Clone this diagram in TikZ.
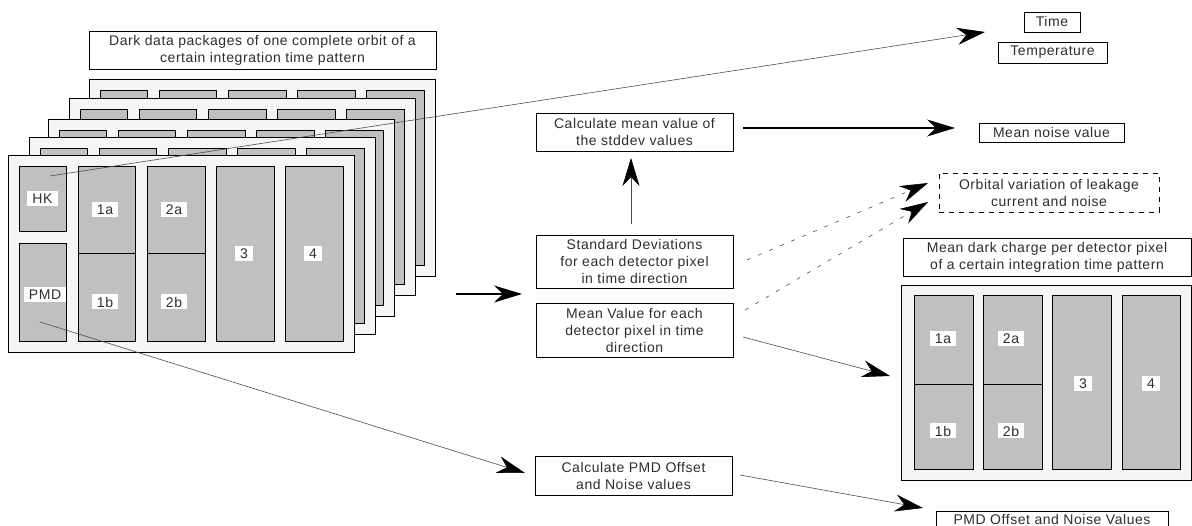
\documentclass[tikz,border=0pt]{standalone}
\usepackage{fontspec}
\setmainfont{Liberation Sans}[LetterSpace=4]
\usetikzlibrary{arrows.meta}
\definecolor{panelfill}{HTML}{F5F5F5}
\definecolor{cellfill}{HTML}{C0C0C0}
\definecolor{txt}{HTML}{2E2E2E}
\begin{document}
\begin{tikzpicture}[x=1pt,y=-1pt,
  txtstyle/.style={text=txt, font=\fontsize{14}{17}\selectfont, align=center},
  box/.style={txtstyle, draw=black, line width=0.9pt, fill=white, inner sep=0pt},
  tag/.style={txtstyle, fill=white, inner xsep=5pt, inner ysep=1pt, minimum height=15pt},
  cell/.style={draw=black, line width=0.9pt, fill=cellfill},
  panel/.style={draw=black, line width=0.9pt, fill=panelfill},
  conn/.style={draw=black!70, line width=0.6pt},
  heavy/.style={draw=black, line width=1.2pt},
  tip/.style={-{Stealth[length=28pt,width=17pt,inset=9pt,color=black]}},
  layer/.pic={
    \draw[panel] (0,0) rectangle (346,197);
    \draw[cell] (11,11) rectangle (58,76);
    \draw[cell] (11,88) rectangle (58,186);
    \draw[cell] (70,11) rectangle (127,186);
    \draw[line width=0.9pt] (70,98) -- (127,98);
    \draw[cell] (139,11) rectangle (197,186);
    \draw[line width=0.9pt] (139,98) -- (197,98);
    \draw[cell] (208,11) rectangle (266,186);
    \draw[cell] (277,11) rectangle (335,186);
  }]
\useasboundingbox (0,0) rectangle (1192,526);

% ---- stack of dark data packages ----
\node[box, minimum width=347pt, minimum height=38pt] (stacktitle) at (262.5,50)
  {Dark data packages of one complete orbit of a\\certain integration time pattern};
\foreach \lx/\ly in {89/79, 69/98, 48/119, 29/137}
  \pic at (\lx,\ly) {layer};
\pic at (8,155) {layer};
\node[tag] (hk)  at (42.5,199) {HK};
\node[tag] (pmd) at (45,294.5) {PMD};
\node[tag] (s1a) at (105,210) {1a};
\node[tag] (s1b) at (105,302) {1b};
\node[tag] (s2a) at (174,210) {2a};
\node[tag] (s2b) at (174,302) {2b};
\node[tag] (s3)  at (244,254) {3};
\node[tag] (s4)  at (313,254) {4};

% ---- processing steps ----
\node[box, minimum width=197pt, minimum height=38pt] (calcmean) at (634.5,132)
  {Calculate mean value of\\the stddev values};
\node[box, minimum width=197pt, minimum height=53pt] (stddev) at (634.5,261.5)
  {Standard Deviations\\for each detector pixel\\in time direction};
\node[box, minimum width=197pt, minimum height=54pt] (meanval) at (634.5,330)
  {Mean Value for each\\detector pixel in time\\direction};
\node[box, minimum width=197pt, minimum height=39pt] (calcpmd) at (633.5,475.5)
  {Calculate PMD Offset\\and Noise values};

% ---- results ----
\node[box, minimum width=56pt, minimum height=20pt] (time) at (1052,22) {Time};
\node[box, minimum width=109pt, minimum height=21pt] (temp) at (1052.5,52.5) {Temperature};
\node[box, minimum width=145pt, minimum height=19pt] (meannoise) at (1051.5,132.5) {Mean noise value};
\node[box, dashed, dash pattern=on 5pt off 5pt, minimum width=220pt, minimum height=39pt] (orbital) at (1049,192.5)
  {Orbital variation of leakage\\current and noise};
\node[box, minimum width=288pt, minimum height=38pt] (darktitle) at (1047,257)
  {Mean dark charge per detector pixel\\of a certain integration time pattern};
\node[panel, minimum width=290pt, minimum height=195pt, inner sep=0pt] (grid) at (1046,382.5) {};
\draw[cell] (914,295) rectangle (973,469);
\draw[line width=0.9pt] (914,384) -- (973,384);
\draw[cell] (983,295) rectangle (1042,469);
\draw[line width=0.9pt] (983,384) -- (1042,384);
\draw[cell] (1052,295) rectangle (1111,469);
\draw[cell] (1122,295) rectangle (1180,469);
\node[tag] (g1a) at (943,339) {1a};
\node[tag] (g1b) at (943,431) {1b};
\node[tag] (g2a) at (1011,339) {2a};
\node[tag] (g2b) at (1011,431) {2b};
\node[tag] (g3)  at (1083,384) {3};
\node[tag] (g4)  at (1151,384) {4};
\node[box, anchor=north, minimum width=232pt, inner ysep=3pt] (pmdout) at (1052,511)
  {PMD Offset and Noise Values};

% ---- connector end points ----
\coordinate (hkpt) at (50,176);
\coordinate (timetip) at (985,32);
\coordinate (pmdpt) at (40,322);
\coordinate (calcpmdtip) at (525,473);
\coordinate (stacktail) at (456,294);
\coordinate (midtip) at (522,294);
\coordinate (cmout) at (743,128);
\coordinate (noisetip) at (955,128);
\coordinate (sdup) at (631,224);
\coordinate (cmtip) at (631,158);
\coordinate (sdout) at (747,260);
\coordinate (orbtipa) at (928,183);
\coordinate (mvout) at (745,310);
\coordinate (orbtipb) at (928,202);
\coordinate (mvgrid) at (743,337);
\coordinate (gridtip) at (890,376);
\coordinate (cpout) at (740,475);
\coordinate (pmdouttip) at (923,508);

% ---- connectors ----
\draw[conn, tip] (hkpt) -- (timetip);
\draw[conn, tip] (pmdpt) -- (calcpmdtip);
\draw[heavy, tip] (stacktail) -- (midtip);
\draw[heavy, tip] (cmout) -- (noisetip);
\draw[conn, tip] (sdup) -- (cmtip);
\draw[conn, dashed, dash pattern=on 4pt off 8pt, tip] (sdout) -- (orbtipa);
\draw[conn, dashed, dash pattern=on 4pt off 8pt, tip] (mvout) -- (orbtipb);
\draw[conn, tip] (mvgrid) -- (gridtip);
\draw[conn, tip] (cpout) -- (pmdouttip);
\end{tikzpicture}
\end{document}
